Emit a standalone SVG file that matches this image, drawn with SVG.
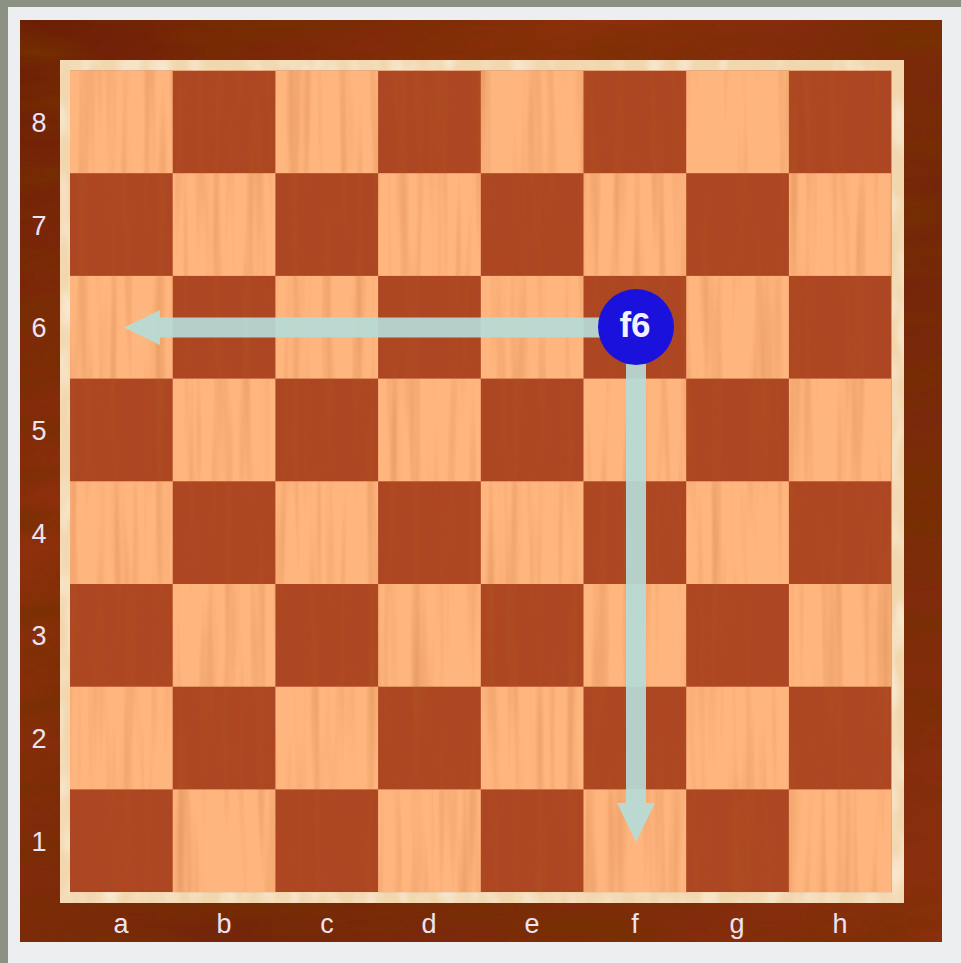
<svg xmlns="http://www.w3.org/2000/svg" width="961" height="963" viewBox="0 0 961 963">
  <defs>
    <style>
      .coord { font-family: "Liberation Sans", Arial, sans-serif; font-size: 27px; fill: #ece4f2; text-anchor: middle; }
      .arrow { fill: #b6dcd8; opacity: 0.92; }
      .node-label { font-family: "Liberation Sans", Arial, sans-serif; font-size: 35px; font-weight: bold; fill: #f4f0ff; text-anchor: middle; }
    </style>
    <linearGradient id="frameGrad" x1="0" y1="0" x2="1" y2="1">
      <stop offset="0" stop-color="#6a1e06"/>
      <stop offset="0.3" stop-color="#8e300c"/>
      <stop offset="0.6" stop-color="#74260a"/>
      <stop offset="1" stop-color="#8c300e"/>
    </linearGradient>
    <pattern id="checker" patternUnits="userSpaceOnUse" x="70" y="70.5" width="205.4" height="205.4">
      <rect x="0" y="0" width="205.4" height="205.4" fill="#ffb57e"/>
      <rect x="102.7" y="0" width="102.7" height="102.7" fill="#ad4622"/>
      <rect x="0" y="102.7" width="102.7" height="102.7" fill="#ad4622"/>
    </pattern>
    <filter id="grain" x="0" y="0" width="100%" height="100%">
      <feTurbulence type="fractalNoise" baseFrequency="0.09 0.004" numOctaves="2" seed="3" result="n"/>
      <feColorMatrix in="n" type="matrix" values="0 0 0 0 0.45  0 0 0 0 0.12  0 0 0 0 0.02  0 0 0 1.6 -0.75" result="c"/>
      <feComposite in="c" in2="SourceGraphic" operator="in"/>
    </filter>
    <filter id="frameGrain" x="0" y="0" width="100%" height="100%">
      <feTurbulence type="fractalNoise" baseFrequency="0.006 0.03" numOctaves="3" seed="7" result="n"/>
      <feColorMatrix in="n" type="matrix" values="0 0 0 0 0.18  0 0 0 0 0.03  0 0 0 0 0.0  0 0 0 2.4 -0.9" result="c"/>
      <feComposite in="c" in2="SourceGraphic" operator="in"/>
    </filter>
    <filter id="mapleGrain" x="0" y="0" width="100%" height="100%">
      <feTurbulence type="fractalNoise" baseFrequency="0.05 0.02" numOctaves="2" seed="11" result="n"/>
      <feColorMatrix in="n" type="matrix" values="0 0 0 0 1  0 0 0 0 0.97  0 0 0 0 0.9  0 0 0 2 -0.8" result="c"/>
      <feComposite in="c" in2="SourceGraphic" operator="in"/>
    </filter>
  </defs>

  <!-- page background -->
  <rect x="0" y="0" width="961" height="963" fill="#8b9183"/>
  <rect x="8" y="7" width="953" height="956" fill="#eceef0"/>

  <!-- wooden frame -->
  <rect x="20" y="20" width="922" height="922" fill="url(#frameGrad)"/>
  <rect x="20" y="20" width="922" height="922" fill="#000" filter="url(#frameGrain)" opacity="0.85"/>

  <!-- maple inlay -->
  <rect x="60" y="60" width="844" height="843" fill="#f2d6ae"/>
  <rect x="60" y="60" width="844" height="843" fill="#000" filter="url(#mapleGrain)" opacity="0.6"/>

  <!-- squares -->
  <rect x="70" y="70.5" width="821.6" height="821.6" fill="url(#checker)"/>
  <rect x="70" y="70.5" width="821.6" height="821.6" fill="#000" filter="url(#grain)" opacity="0.4"/>

  <!-- rank coordinates -->
  <g id="ranks">
    <text class="coord" x="39" y="132">8</text>
    <text class="coord" x="39" y="235">7</text>
    <text class="coord" x="39" y="337">6</text>
    <text class="coord" x="39" y="440">5</text>
    <text class="coord" x="39" y="543">4</text>
    <text class="coord" x="39" y="645">3</text>
    <text class="coord" x="39" y="748">2</text>
    <text class="coord" x="39" y="851">1</text>
  </g>
  <!-- file coordinates -->
  <g id="files">
    <text class="coord" x="121" y="933">a</text>
    <text class="coord" x="224" y="933">b</text>
    <text class="coord" x="327" y="933">c</text>
    <text class="coord" x="429" y="933">d</text>
    <text class="coord" x="532" y="933">e</text>
    <text class="coord" x="635" y="933">f</text>
    <text class="coord" x="737" y="933">g</text>
    <text class="coord" x="840" y="933">h</text>
  </g>

  <!-- connectors -->
  <g id="connectors">
    <g id="arrow-west">
      <rect class="arrow" x="160" y="317.5" width="440" height="20"/>
      <polygon class="arrow" points="160,310 124,327.5 160,345"/>
    </g>
    <g id="arrow-south">
      <rect class="arrow" x="626" y="364" width="20" height="439"/>
      <polygon class="arrow" points="617,803 636,842 655,803"/>
    </g>
  </g>

  <!-- node -->
  <g id="node-f6">
    <circle cx="636" cy="327" r="38" fill="#1a12dc"/>
    <text class="node-label" x="635" y="337">f6</text>
  </g>
</svg>
